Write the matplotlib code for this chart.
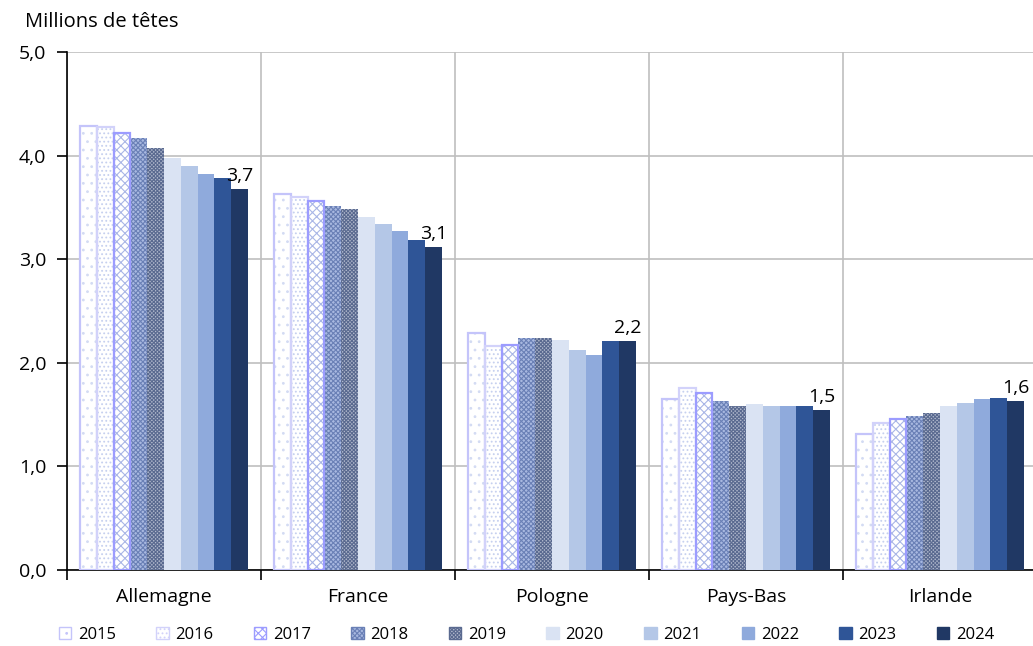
import numpy as np
import matplotlib.pyplot as plt

plt.rcParams['font.family'] = ['Open Sans', 'DejaVu Sans']
plt.rcParams['hatch.linewidth'] = 0.8

# Cheptel bovin (millions de têtes)
pays = ['Allemagne', 'France', 'Pologne', 'Pays-Bas', 'Irlande']
annees = ['2015', '2016', '2017', '2018', '2019', '2020', '2021', '2022', '2023', '2024']
v2015 = [4.29, 3.63, 2.29, 1.65, 1.31]
v2016 = [4.28, 3.60, 2.16, 1.76, 1.42]
v2017 = [4.22, 3.56, 2.17, 1.71, 1.46]
v2018 = [4.17, 3.51, 2.24, 1.63, 1.49]
v2019 = [4.07, 3.48, 2.24, 1.58, 1.52]
v2020 = [3.98, 3.41, 2.22, 1.60, 1.58]
v2021 = [3.90, 3.34, 2.12, 1.58, 1.61]
v2022 = [3.82, 3.27, 2.08, 1.58, 1.65]
v2023 = [3.78, 3.19, 2.21, 1.58, 1.66]
v2024 = [3.68, 3.12, 2.21, 1.54, 1.63]
series = [v2015, v2016, v2017, v2018, v2019, v2020, v2021, v2022, v2023, v2024]

# style par année : (couleur fond, motif, couleur motif, couleur contour)
styles = [
    ('white', '..', '#d3dbf3', '#c4c4fa'),
    ('white', '....', '#c6d0ef', '#d2d2fa'),
    ('white', 'xxxx', '#a9b6e6', '#9c9cff'),
    ('#a8b8e0', 'xxxxxxx', '#6a80b6', None),
    ('#b0b8cc', 'xxxxxxxxx', '#5a6a90', None),
    ('#dae3f3', None, None, None),
    ('#b4c7e7', None, None, None),
    ('#8faadc', None, None, None),
    ('#2f5597', None, None, None),
    ('#203864', None, None, None),
]

fig = plt.figure(figsize=(10.33, 6.46), dpi=100)
ax = fig.add_axes([0.0649, 0.1176, 0.9390, 0.8019])

x = np.arange(len(pays))
width = 0.0866
handles = []
for i, (vals, st) in enumerate(zip(series, styles)):
    face, hatch, hcol, edge = st
    pos = x - 0.433 + width * (i + 0.5)
    if hatch:
        ax.bar(pos, vals, width, color=face, hatch=hatch, edgecolor=hcol, linewidth=0, zorder=3)
    else:
        ax.bar(pos, vals, width, color=face, linewidth=0, zorder=3)
    if edge:
        ax.bar(pos, vals, width, fill=False, edgecolor=edge, linewidth=1.6, zorder=4)
    h = plt.Rectangle((0, 0), 1, 1, facecolor=face, hatch=hatch,
                      edgecolor=edge if edge else (hcol if hcol else face), linewidth=1)
    handles.append(h)

# étiquettes de la dernière année
last_pos = x - 0.433 + width * 9.5
for xp, v in zip(last_pos, v2024):
    ax.annotate(f"{v:.1f}".replace('.', ','), (xp, v), xytext=(0, 3),
                textcoords='offset points', ha='center', va='bottom', fontsize=14)

ax.set_ylim(0, 5)
ax.set_xlim(-0.5, 4.5)
ax.set_yticks([0, 1, 2, 3, 4, 5])
ax.set_yticklabels(['0,0', '1,0', '2,0', '3,0', '4,0', '5,0'], fontsize=14)
ax.set_xticks(np.arange(-0.5, 5, 1))
ax.set_xticklabels([])
ax.set_xticks(x, minor=True)
ax.set_xticklabels(pays, minor=True, fontsize=14)
ax.tick_params(axis='x', which='minor', length=0, pad=13)
ax.tick_params(axis='x', which='major', length=7, width=1.2, direction='out')
ax.tick_params(axis='y', length=7, width=1.2, pad=8)

ax.grid(True, which='major', color='#bfbfbf', linewidth=1.2, zorder=0)
ax.set_axisbelow(True)
for s in ['top', 'right']:
    ax.spines[s].set_visible(False)
ax.spines['left'].set_linewidth(1.2)
ax.spines['bottom'].set_linewidth(1.2)

fig.text(25 / 1033, 1 - 22 / 646, 'Millions de têtes', fontsize=14.5, va='center', ha='left')

fig.legend(handles, annees, loc='center left', bbox_to_anchor=(52 / 1033, 1 - 635 / 646),
           ncol=10, frameon=False, fontsize=12, handlelength=0.75, handleheight=0.75,
           handletextpad=0.4, columnspacing=2.42, borderaxespad=0)

fig.savefig('out.png', dpi=100)
